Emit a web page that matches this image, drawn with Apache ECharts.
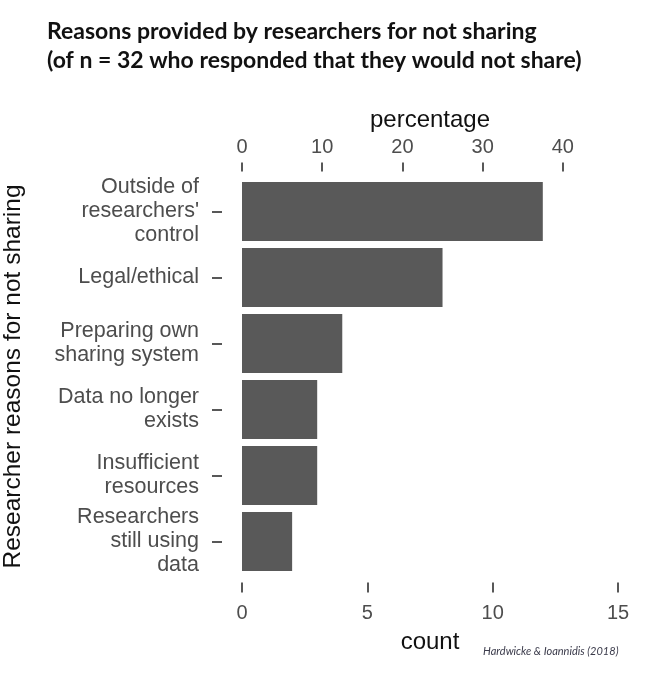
<!DOCTYPE html>
<html>
<head>
<meta charset="utf-8">
<script src="https://cdn.jsdelivr.net/npm/echarts@6/dist/echarts.min.js"></script>
<style>
html,body{margin:0;padding:0;background:#fff;}
#c{width:650px;height:674px;}
</style>
</head>
<body>
<div id="c"></div>
<script>
const categories = [
  "Outside of\nresearchers'\ncontrol",
  "Legal/ethical",
  "Preparing own\nsharing system",
  "Data no longer\nexists",
  "Insufficient\nresources",
  "Researchers\nstill using\ndata"
];
const counts = [12, 8, 4, 3, 3, 2];
const totalN = 32;
const countTicks = [0, 5, 10, 15];
const percentTicks = [0, 10, 20, 30, 40];
const titleLines = ["Reasons provided by researchers for not sharing", "(of n = 32 who responded that they would not share)"];
const captionText = "Hardwicke & Ioannidis (2018)";

const countMax = countTicks[countTicks.length - 1];
const pctMax = countMax / totalN * 100;

const chart = echarts.init(document.getElementById('c'), null, {renderer: 'canvas'});
const labelFont = 'Liberation Sans';
chart.setOption({
  animation: false,
  backgroundColor: '#ffffff',
  title: {
    text: titleLines.join('\n'),
    left: 42,
    top: 12,
    textStyle: {fontFamily: 'Lato', fontWeight: 'bold', fontSize: 23, lineHeight: 29, color: '#111'}
  },
  graphic: [{
    type: 'text',
    left: 483,
    top: 646,
    style: {text: captionText, fontFamily: 'Lato', fontStyle: 'italic', fontSize: 11, fill: '#3a3a4a'}
  }],
  grid: {left: 242, right: 32, top: 178.5, bottom: 99.5, containLabel: false, outerBoundsMode: 'none'},
  xAxis: [{
    type: 'value',
    position: 'bottom',
    min: 0, max: countMax, interval: 5,
    offset: 8,
    axisLine: {show: false},
    axisTick: {show: true, length: 10, customValues: countTicks, lineStyle: {color: '#222', width: 1.5}},
    axisLabel: {margin: 21, fontFamily: labelFont, fontSize: 20, color: '#4d4d4d', customValues: countTicks},
    splitLine: {show: false},
    name: 'count',
    nameLocation: 'middle',
    nameGap: 48,
    nameTextStyle: {fontFamily: labelFont, fontSize: 24, color: '#111'}
  }, {
    type: 'value',
    position: 'top',
    min: 0, max: pctMax, interval: 10,
    offset: 7,
    axisLine: {show: false},
    axisTick: {show: true, length: 9, customValues: percentTicks, lineStyle: {color: '#222', width: 1.5}},
    axisLabel: {margin: 14, fontFamily: labelFont, fontSize: 20, color: '#4d4d4d', customValues: percentTicks},
    splitLine: {show: false},
    name: 'percentage',
    nameLocation: 'middle',
    nameGap: 38,
    nameTextStyle: {fontFamily: labelFont, fontSize: 24, color: '#111'}
  }],
  yAxis: {
    type: 'category',
    data: categories,
    inverse: true,
    offset: 0,
    axisLine: {show: false},
    axisTick: {show: true, length: 30, alignWithLabel: true,
      lineStyle: {color: '#222', width: 1.5, type: [0, 20, 10, 0]}},
    axisLabel: {margin: 43, fontFamily: labelFont, fontSize: 21.5, lineHeight: 24, color: '#4d4d4d', align: 'right'},
    name: 'Researcher reasons for not sharing',
    nameLocation: 'middle',
    nameRotate: 90,
    nameGap: 216,
    nameTextStyle: {fontFamily: labelFont, fontSize: 24.5, color: '#111'}
  },
  series: [{
    type: 'bar',
    xAxisIndex: 0,
    data: counts,
    barCategoryGap: '10.5%',
    itemStyle: {color: '#595959'}
  }]
});
</script>
</body>
</html>
